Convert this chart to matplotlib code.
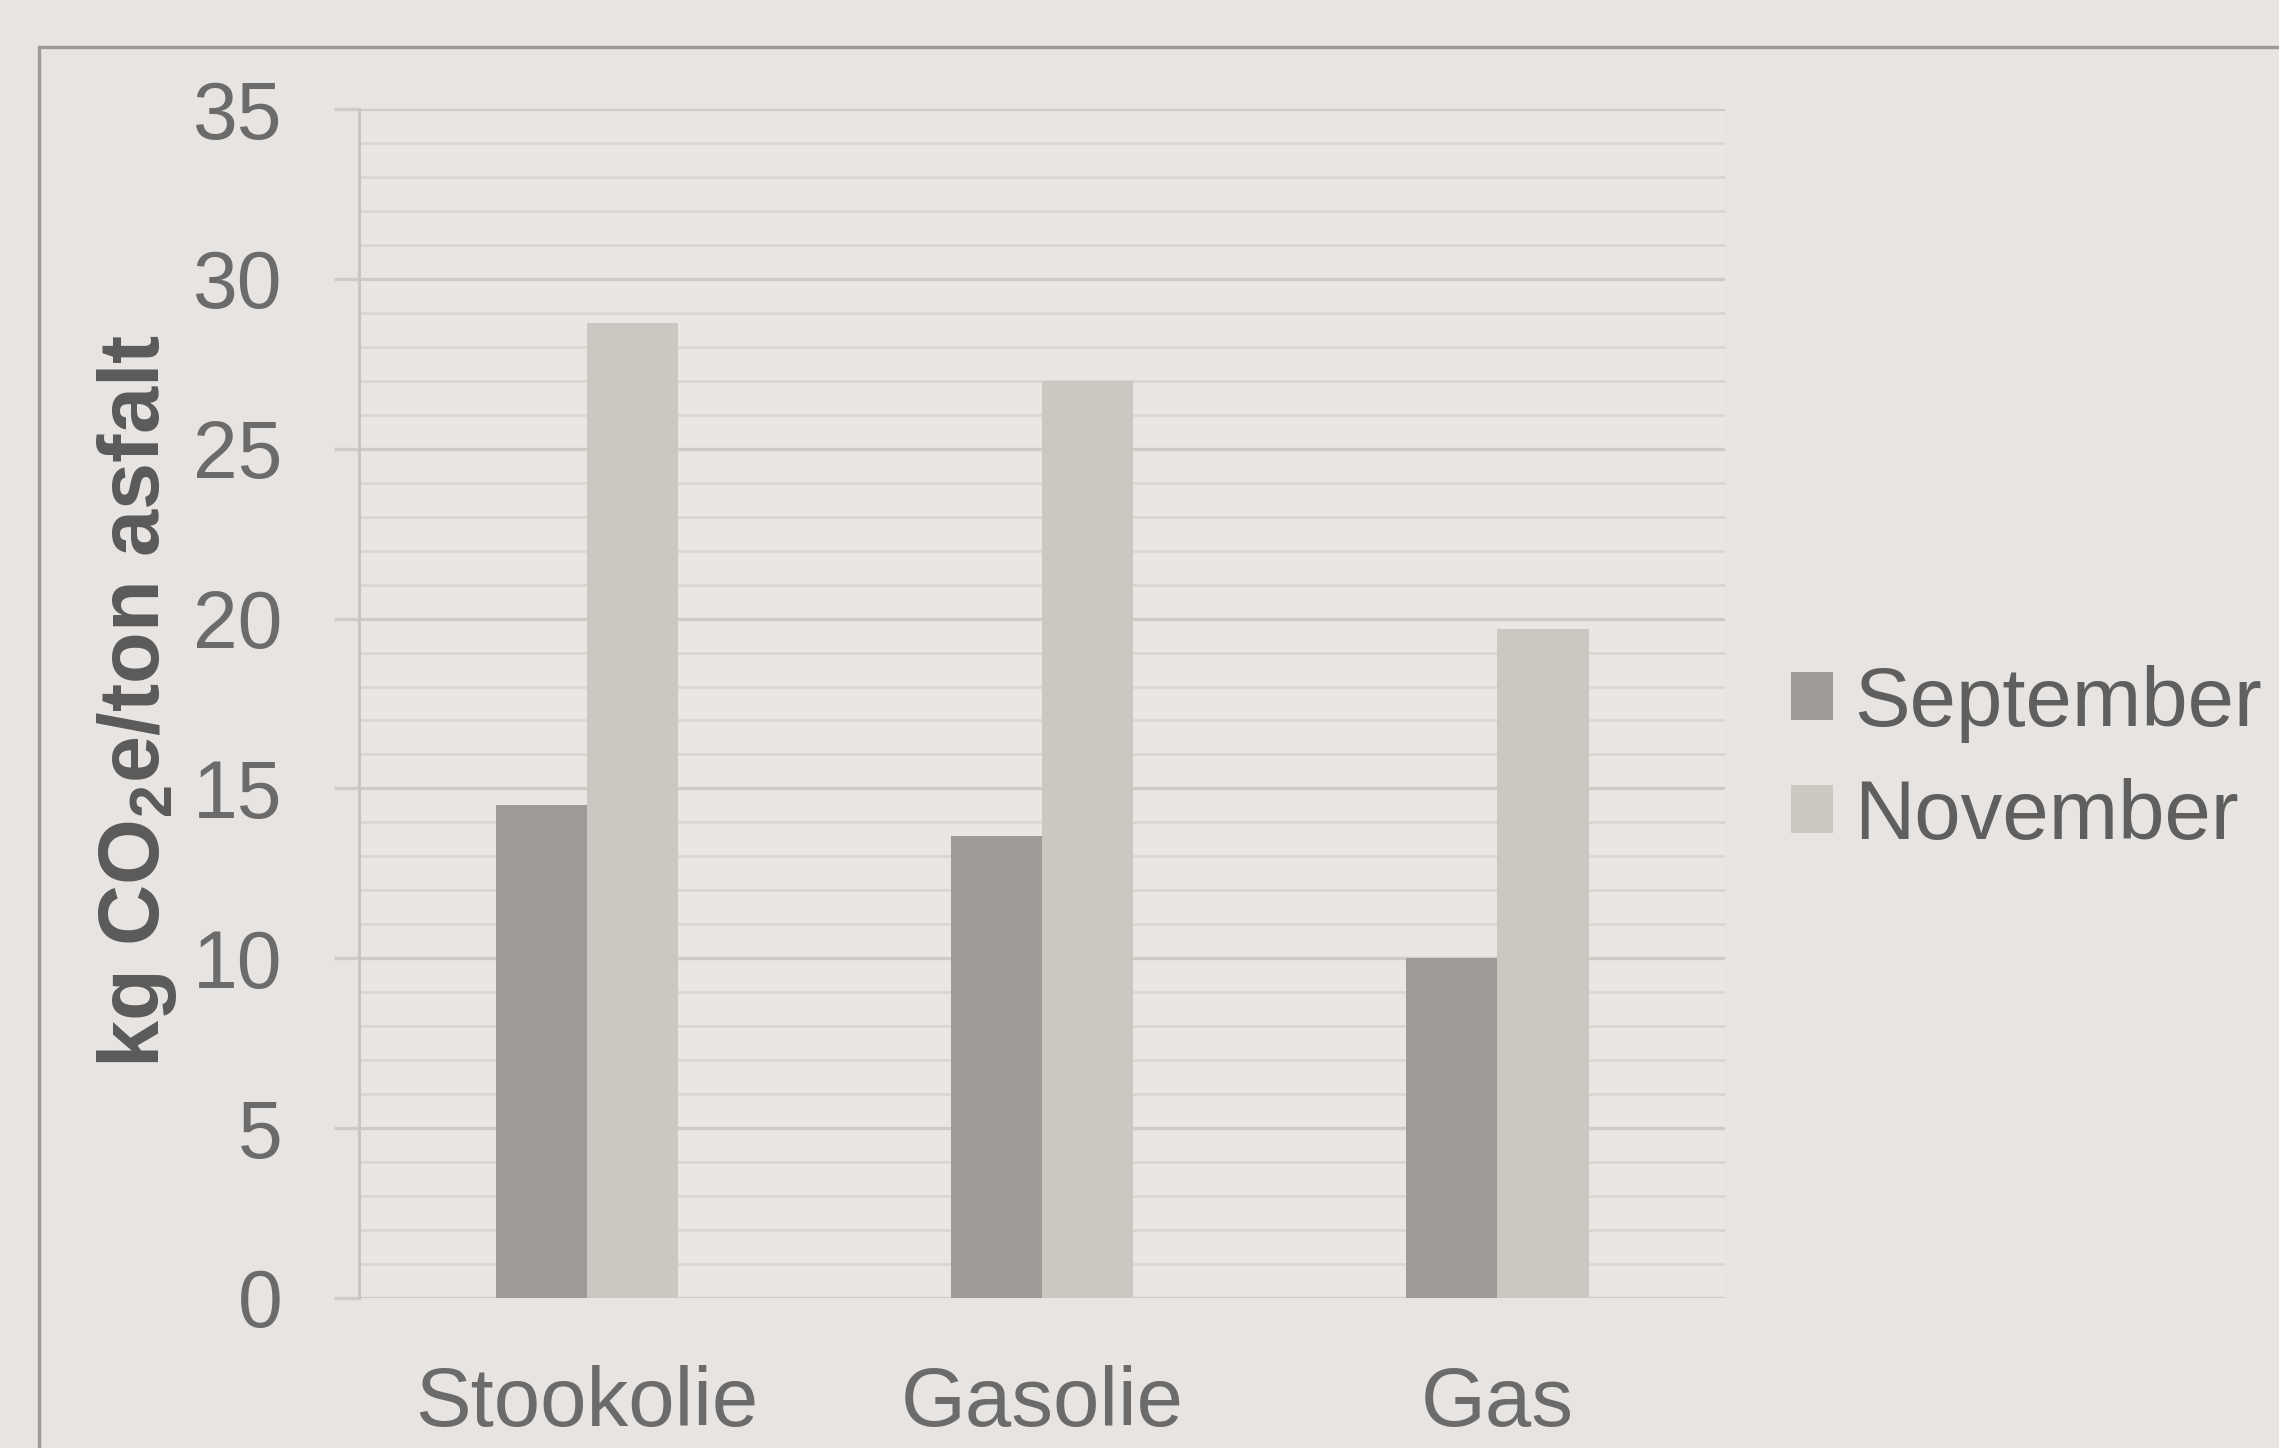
import matplotlib
matplotlib.use("Agg")
from matplotlib import pyplot as plt
from matplotlib.patches import Rectangle, Patch
import numpy as np

categories = ["Stookolie", "Gasolie", "Gas"]
september = [14.5, 13.6, 10.0]
november = [28.7, 27.0, 19.7]
series_names = ["September", "November"]

plt.rcParams["font.family"] = ["Liberation Sans", "DejaVu Sans"]
plt.rcParams["mathtext.default"] = "regular"

paper = "#e7e4e1"
dark_bar = "#9e9a97"
light_bar = "#cbc8c2"
text_grey = "#6b6b6b"

fig = plt.figure(figsize=(22.79, 14.48), dpi=100)
fig.patch.set_facecolor(paper)
ax = fig.add_axes([0.1575, 0.1036, 0.5995, 0.8211])
ax.set_facecolor("#e9e6e3")

x = np.arange(len(categories))
w = 0.2
ax.bar(x - w / 2, september, width=w, color=dark_bar, zorder=3)
ax.bar(x + w / 2, november, width=w, color=light_bar, zorder=3)

ax.set_xlim(-0.5, 2.5)
ax.set_ylim(0, 35)
ax.set_yticks(np.arange(0, 36, 5))
ax.set_yticks(np.arange(0, 36, 1), minor=True)
ax.grid(axis="y", which="minor", color="#dad7d3", linewidth=2.0, zorder=0)
ax.grid(axis="y", which="major", color="#cfccc8", linewidth=2.4, zorder=1)
ax.tick_params(axis="y", which="major", length=18, width=2.4, color="#cfccc8",
               labelsize=58, labelcolor=text_grey, pad=37)
ax.tick_params(axis="y", which="minor", length=0)
ax.set_xticks(x)
ax.set_xticklabels(categories)
ax.tick_params(axis="x", length=0, labelsize=60, labelcolor=text_grey, pad=48)

for side in ["top", "right", "bottom"]:
    ax.spines[side].set_visible(False)
ax.spines["left"].set_color("#c9c6c2")
ax.spines["left"].set_linewidth(2.2)

fig.text(0.06, 0.516, r"kg CO$_\mathregular{2}$e/ton asfalt", rotation=90,
         ha="center", va="center", fontsize=61, fontweight="bold", color="#5a5a5a")

handles = [Patch(facecolor=dark_bar), Patch(facecolor=light_bar)]
leg = fig.legend(handles, series_names, loc="center left",
                 bbox_to_anchor=(0.786, 0.475), frameon=False, fontsize=60,
                 handlelength=0.5, handleheight=0.5, handletextpad=0.25,
                 labelspacing=0.42, borderaxespad=0, borderpad=0)
for t in leg.get_texts():
    t.set_color("#5f5f5f")

# outer frame of the chart box
fig.patches.append(Rectangle((0.0171, -0.1), 1.2, 1.0675, transform=fig.transFigure,
                             fill=False, edgecolor="#9c9a98", linewidth=2.4))

fig.savefig("out.png", dpi=100, facecolor=paper)
